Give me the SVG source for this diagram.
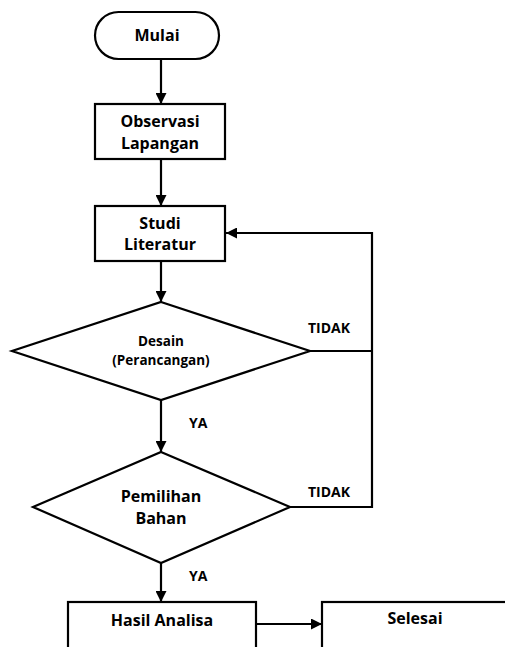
<svg xmlns="http://www.w3.org/2000/svg" width="505" height="647" viewBox="0 0 505 647">
<style>
.s{fill:#fff;stroke:#000;stroke-width:2.2}
.c{fill:none;stroke:#000;stroke-width:2.2}
.t{font-family:"Open Sans","Liberation Sans",sans-serif;font-weight:700;font-size:16px;fill:#000;text-anchor:middle}
.sm{font-size:13.5px}
.lb{font-family:"Open Sans","Liberation Sans",sans-serif;font-weight:700;font-size:14px;fill:#000}
</style>
<defs>
<marker id="a" viewBox="0 0 10 10" refX="10" refY="5" markerWidth="5" markerHeight="5" orient="auto" markerUnits="strokeWidth">
<path d="M0,0L10,5L0,10z" fill="#000"/>
</marker>
</defs>
<g id="connectors">
<line class="c" x1="161" y1="59" x2="161" y2="104" marker-end="url(#a)"/>
<line class="c" x1="161" y1="159" x2="161" y2="206" marker-end="url(#a)"/>
<line class="c" x1="161" y1="261" x2="161" y2="302" marker-end="url(#a)"/>
<line class="c" x1="161" y1="400" x2="161" y2="452" marker-end="url(#a)"/>
<line class="c" x1="161" y1="563" x2="161" y2="602" marker-end="url(#a)"/>
<line class="c" x1="256" y1="624" x2="322" y2="624" marker-end="url(#a)"/>
<polyline class="c" points="310,351 372,351"/>
<polyline class="c" points="290,507 372,507 372,233 226,233" marker-end="url(#a)"/>
<text class="lb" x="308" y="333">TIDAK</text>
<text class="lb" x="308" y="497">TIDAK</text>
<text class="lb" x="189" y="428">YA</text>
<text class="lb" x="189" y="581">YA</text>
</g>
<g id="mulai">
<rect class="s" x="95" y="12" width="124" height="47" rx="23.5" ry="23.5"/>
<text class="t" x="157" y="41">Mulai</text>
</g>
<g id="observasi">
<rect class="s" x="95" y="104" width="130" height="55"/>
<text class="t" x="160" y="127">Observasi</text>
<text class="t" x="160" y="149">Lapangan</text>
</g>
<g id="studi">
<rect class="s" x="95" y="206" width="130" height="55"/>
<text class="t" x="160" y="229">Studi</text>
<text class="t" x="160" y="250">Literatur</text>
</g>
<g id="desain">
<polygon class="s" points="161,302 310,351 161,400 12,351"/>
<text class="t sm" x="161" y="346">Desain</text>
<text class="t sm" x="161" y="365">(Perancangan)</text>
</g>
<g id="pemilihan">
<polygon class="s" points="161,452 290,507 161,563 33,507"/>
<text class="t" x="161" y="502">Pemilihan</text>
<text class="t" x="161" y="524">Bahan</text>
</g>
<g id="hasil">
<rect class="s" x="68" y="602" width="188" height="60"/>
<text class="t" x="162" y="626">Hasil Analisa</text>
</g>
<g id="selesai">
<rect class="s" x="322" y="602" width="200" height="60"/>
<text class="t" x="415" y="624">Selesai</text>
</g>
</svg>
